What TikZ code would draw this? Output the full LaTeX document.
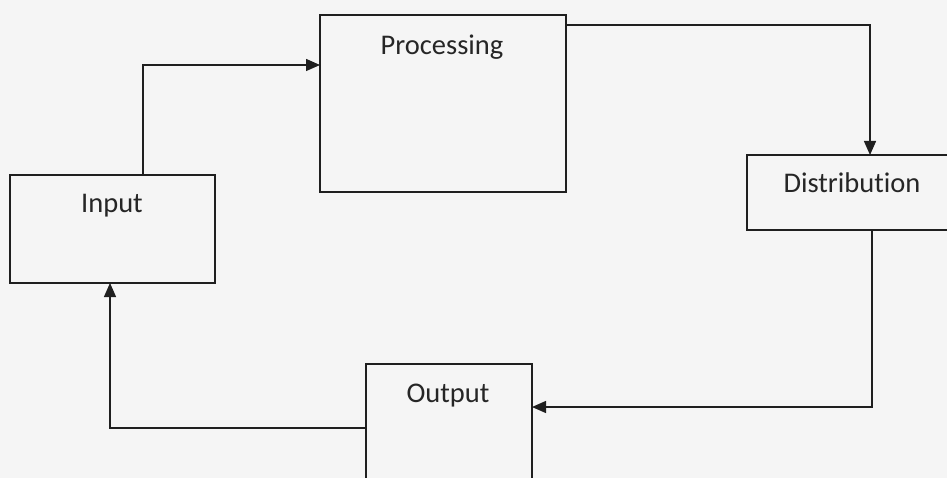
\documentclass[tikz,border=0pt]{standalone}
\usepackage{fontspec}
\setmainfont{Carlito}[Ligatures={NoCommon}]
\usetikzlibrary{arrows.meta}
\begin{document}
\begin{tikzpicture}[x=1pt,y=-1pt,
  boxst/.style={draw=black!88,line width=1.4pt,minimum width=#1,inner sep=0pt,outer sep=0pt},
  lbl/.style={anchor=base,font=\fontsize{28.5}{30}\selectfont,text=black!85,inner sep=0pt},
  arr/.style={draw=black!88,line width=1.4pt,-{Triangle[length=14pt,width=12pt]}}]
\fill[black!4] (0,0) rectangle (947,478);
\useasboundingbox (0,0) rectangle (947,478);
\clip (0,0) rectangle (947,478);
% boxes
\node[boxst=205pt,minimum height=108pt] (inp) at (112.5,229) {};
\node[boxst=246pt,minimum height=177pt] (proc) at (443,103.5) {};
\node[boxst=213pt,minimum height=75pt] (dist) at (853.5,192.5) {};
\node[boxst=166pt,minimum height=131pt] (outp) at (449,429.5) {};
% labels
\node[lbl] (tinp) at (112,213) {Input};
\node[lbl] (tproc) at (442,55) {Processing};
\node[lbl] (tdist) at (852,193) {Distribution};
\node[lbl] (tout) at (448,402) {Output};
% connectors
\coordinate (a1) at (143,65);
\coordinate (a2) at (870,25);
\coordinate (a3) at (872,407);
\coordinate (a4) at (110,428);
\draw[arr] (inp.north -| a1) |- (proc.west |- a1);
\draw[arr] (proc.east |- a2) -| (dist.north -| a2);
\draw[arr] (dist.south -| a3) |- (outp.east |- a3);
\draw[arr] (outp.west |- a4) -| (inp.south -| a4);
\end{tikzpicture}
\end{document}
